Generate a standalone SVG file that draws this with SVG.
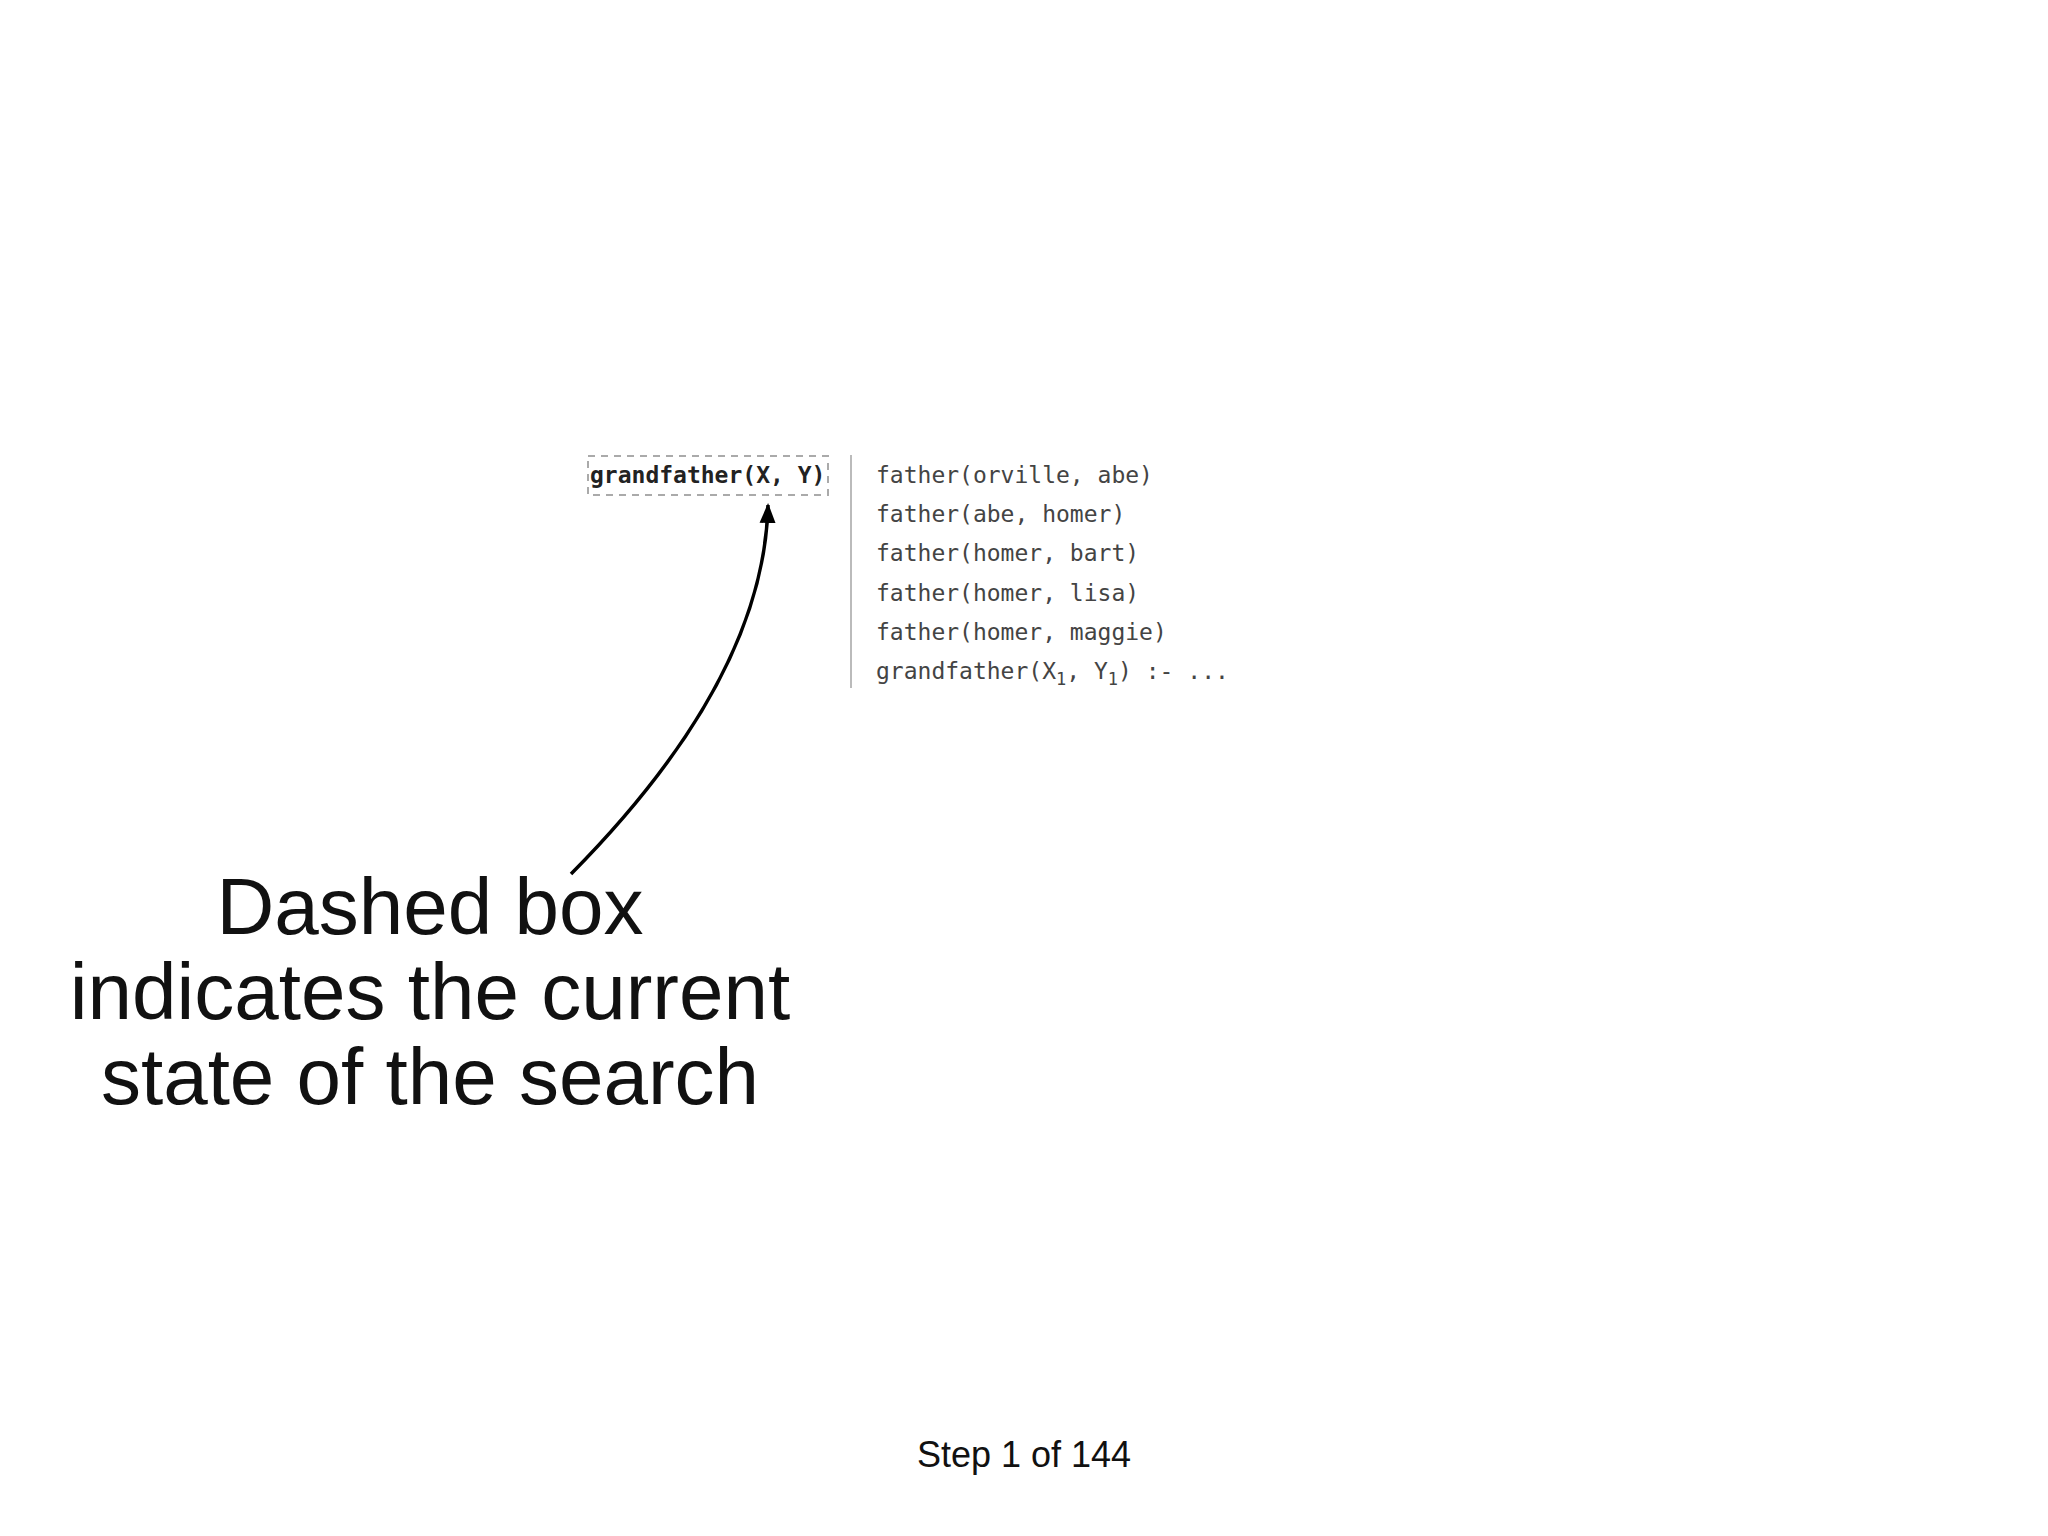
<svg xmlns="http://www.w3.org/2000/svg" width="2048" height="1536" viewBox="0 0 2048 1536">
<style>
.code{font-family:"DejaVu Sans Mono",monospace;font-size:23px;fill:#444}
.big{font-family:"Liberation Sans",Arial,sans-serif;font-size:80px;fill:#111;text-anchor:middle}
</style>
<defs><marker id="ah" markerWidth="10" markerHeight="10" refX="8" refY="5" orient="auto" markerUnits="userSpaceOnUse" viewBox="0 0 10 10"><path d="M0,0 L10,5 L0,10 z" fill="#000"/></marker>
<marker id="ah2" viewBox="0 0 20 20" refX="18" refY="10" markerWidth="20" markerHeight="20" orient="auto" markerUnits="userSpaceOnUse"><path d="M0,2 L20,10 L0,18 z" fill="#000"/></marker></defs>
<rect width="2048" height="1536" fill="#fff"/>
<g id="goal">
<rect x="588" y="456" width="240" height="39" fill="none" stroke="#aaa" stroke-width="2" stroke-dasharray="7,6"/>
<text x="590" y="483" class="code" style="font-weight:bold;fill:#222">grandfather(X, Y)</text>
</g>
<g id="db">
<line x1="851" y1="455" x2="851" y2="688" stroke="#bbb" stroke-width="2"/>
<text x="876" y="483" class="code">father(orville, abe)</text>
<text x="876" y="522" class="code">father(abe, homer)</text>
<text x="876" y="561" class="code">father(homer, bart)</text>
<text x="876" y="601" class="code">father(homer, lisa)</text>
<text x="876" y="640" class="code">father(homer, maggie)</text>
<text x="876" y="679" class="code">grandfather(X<tspan dy="6" font-size="17">1</tspan><tspan dy="-6">, Y</tspan><tspan dy="6" font-size="17">1</tspan><tspan dy="-6">) :- ...</tspan></text>
</g>
<g id="note">
<text class="big" x="430" y="934">Dashed box</text>
<text class="big" x="430" y="1019">indicates the current</text>
<text class="big" x="430" y="1104">state of the search</text>
</g>
<g id="connectors">
<path d="M571,874 Q764,679 768,505" fill="none" stroke="#000" stroke-width="3.5" marker-end="url(#ah2)"/>
</g>
<text x="1024" y="1467" font-family="Liberation Sans,Arial,sans-serif" font-size="36" fill="#111" text-anchor="middle">Step 1 of 144</text>
</svg>
